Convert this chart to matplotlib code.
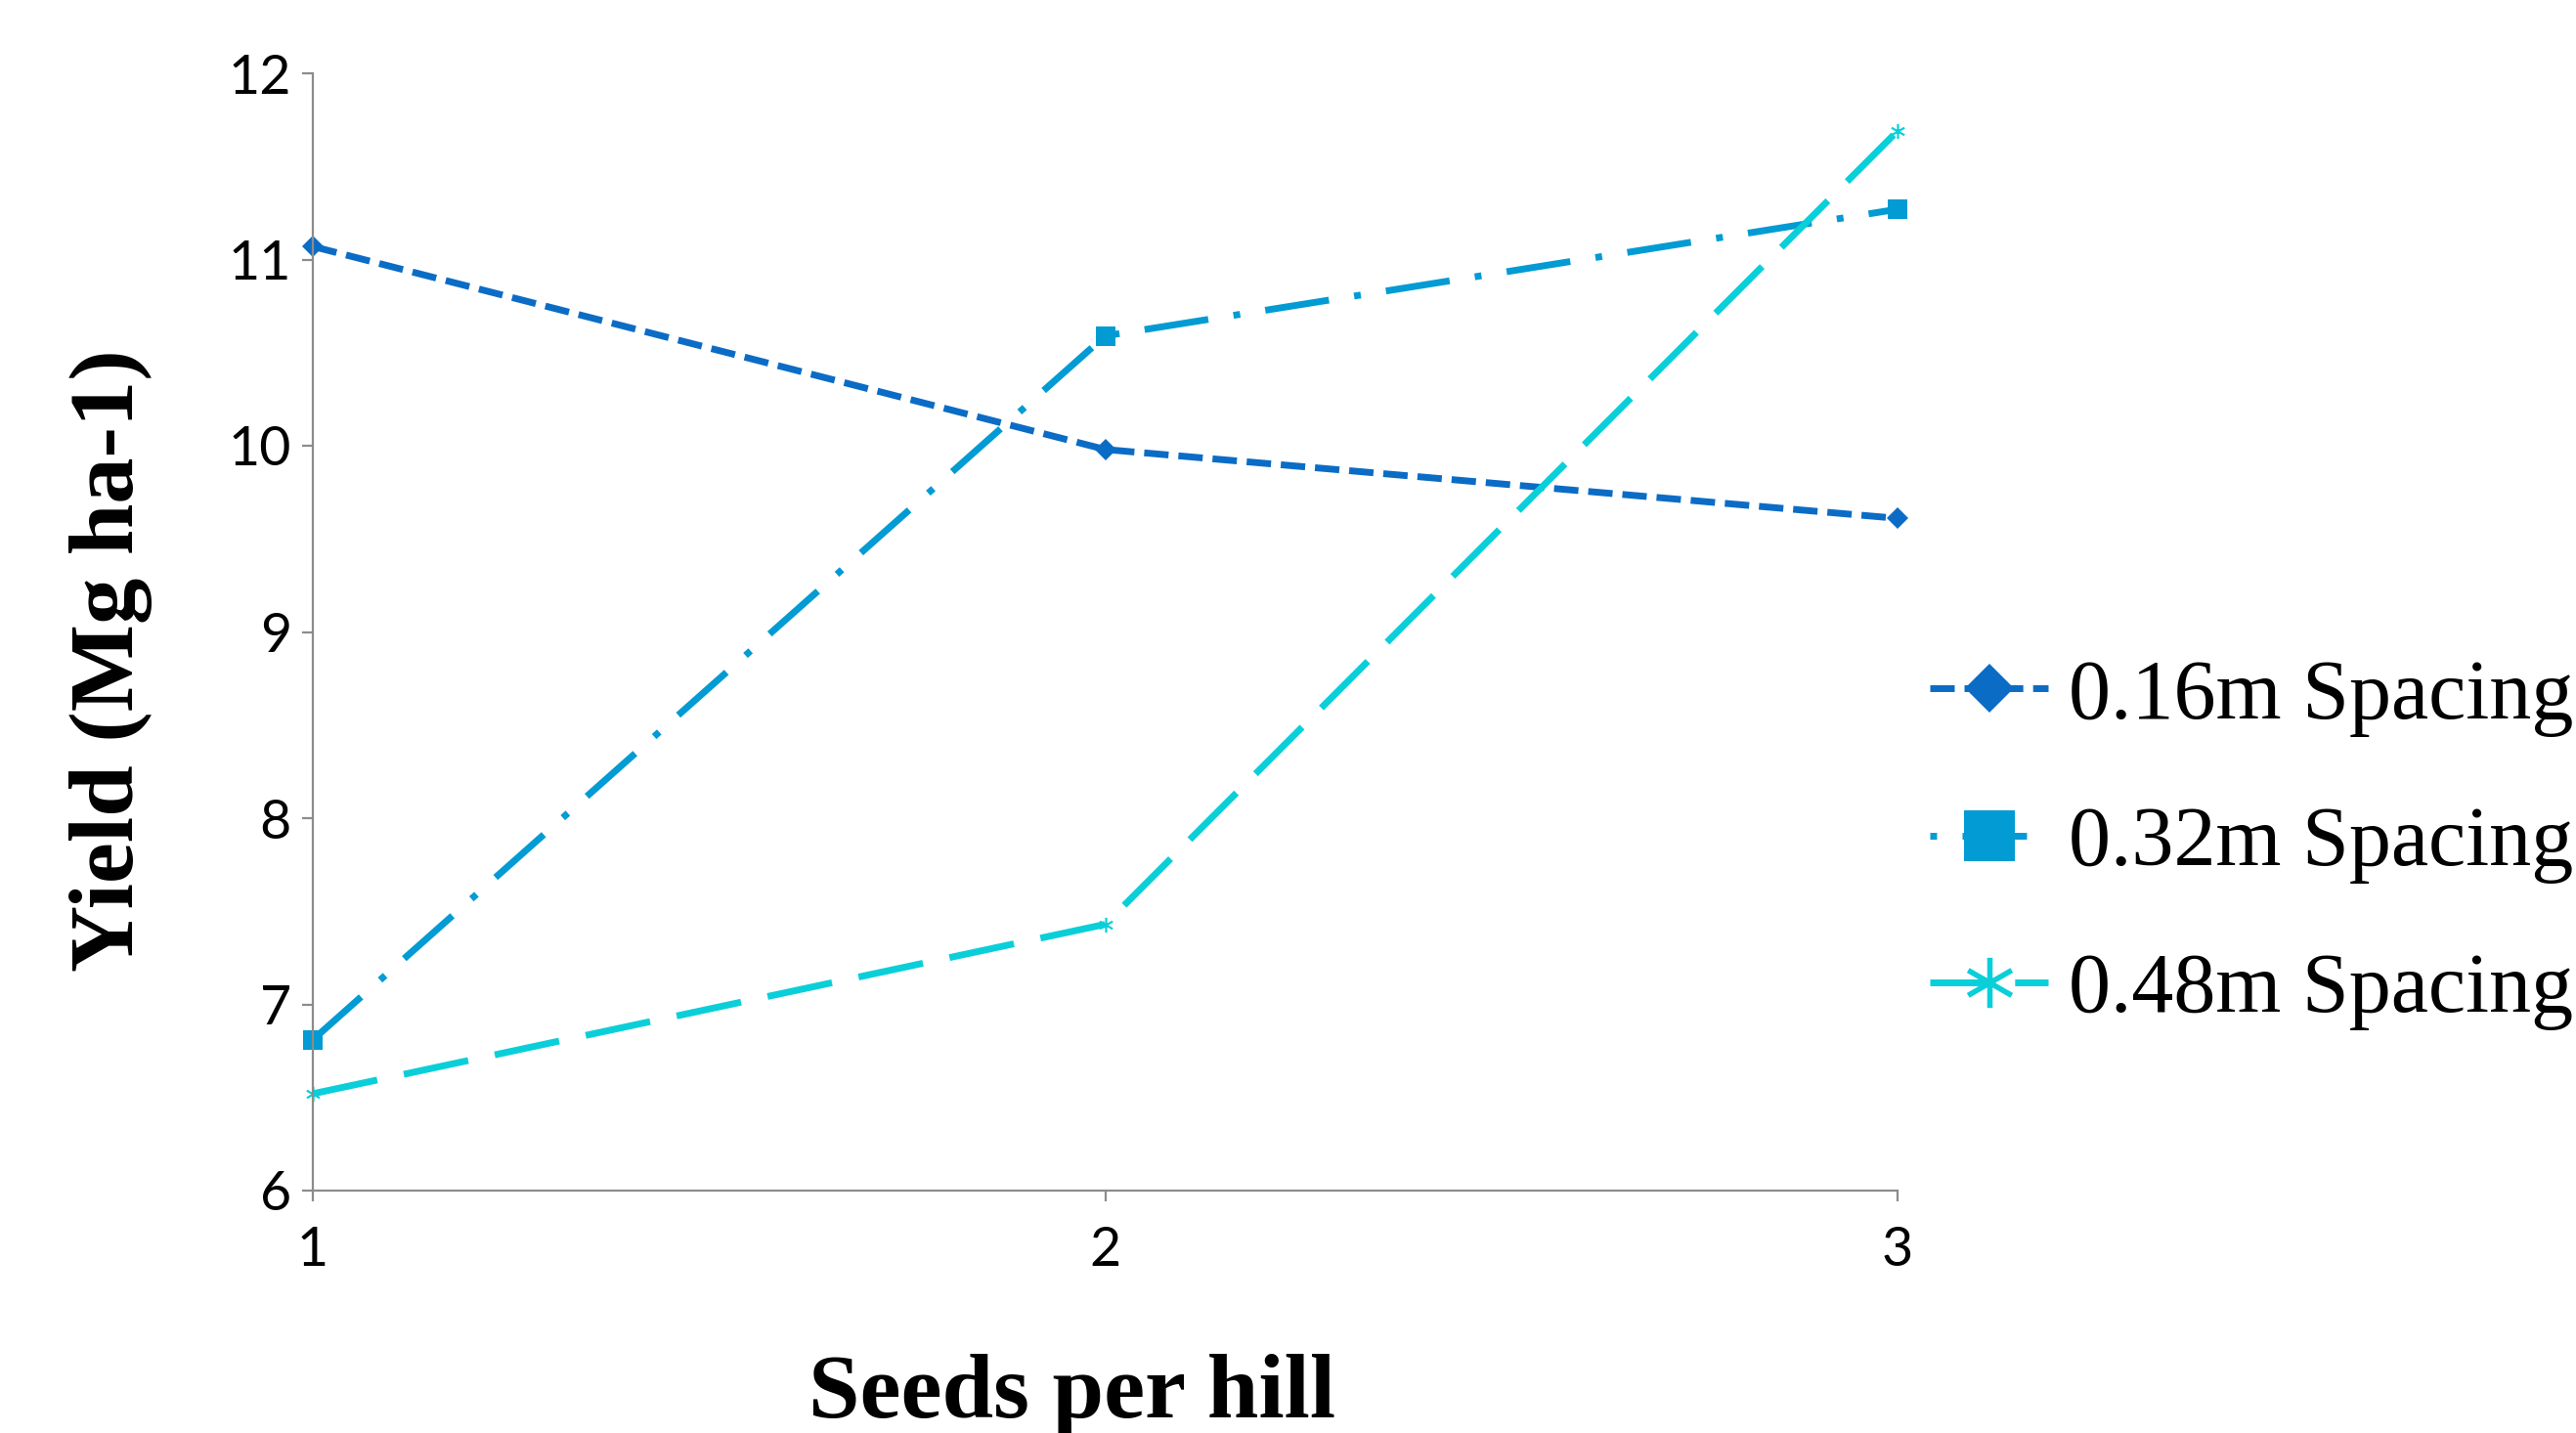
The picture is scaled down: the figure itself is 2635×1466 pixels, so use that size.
import matplotlib
matplotlib.use("Agg")
import matplotlib.pyplot as plt
from matplotlib.lines import Line2D
from matplotlib.path import Path

# data
seeds = [1, 2, 3]
spacing_016 = [11.07, 9.98, 9.61]
spacing_032 = [6.81, 10.59, 11.27]
spacing_048 = [6.52, 7.43, 11.69]
labels = ["0.16m Spacing", "0.32m Spacing", "0.48m Spacing"]
y_ticks = [6, 7, 8, 9, 10, 11, 12]

c1 = "#0B6CC5"
c2 = "#029BD3"
c3 = "#0ACFD9"

# six-armed asterisk like the Excel star marker
star = Path([(0, -1), (0, 1), (-0.866, -0.5), (0.866, 0.5), (-0.866, 0.5), (0.866, -0.5)],
            [Path.MOVETO, Path.LINETO, Path.MOVETO, Path.LINETO, Path.MOVETO, Path.LINETO])

lw = 2.5
ls1 = (0, (3.6, 1.45))
ls2 = (0, (9.5, 3.75, 1.0, 3.75))
ls3 = (0, (9.7, 4.0))

fig = plt.figure(figsize=(13.175, 7.33), dpi=200)
ax = fig.add_axes([320 / 2635, 1 - 1218 / 1466, (1941 - 320) / 2635, (1218 - 75) / 1466])

ax.plot(seeds, spacing_016, color=c1, lw=lw, ls=ls1, dash_capstyle="butt",
        marker="D", ms=5.4, mew=0, clip_on=False)
ax.plot(seeds, spacing_032, color=c2, lw=lw, ls=ls2, dash_capstyle="butt",
        marker="s", ms=7.2, mew=0, clip_on=False)
ax.plot(seeds, spacing_048, color=c3, lw=lw, ls=ls3, dash_capstyle="butt",
        marker=star, ms=5.5, mew=0.8, mec=c3, clip_on=False)

ax.set_xlim(1, 3)
ax.set_ylim(6, 12)
ax.set_xticks(seeds)
ax.set_yticks(y_ticks)

for s in ["top", "right"]:
    ax.spines[s].set_visible(False)
for s in ["left", "bottom"]:
    ax.spines[s].set_color("#8C8C8C")
    ax.spines[s].set_linewidth(0.8)

ax.tick_params(axis="both", direction="out", length=4, width=0.8, color="#8C8C8C",
               labelsize=20, labelcolor="black")
ax.tick_params(axis="y", pad=4)
ax.tick_params(axis="x", pad=9)
for t in ax.get_xticklabels() + ax.get_yticklabels():
    t.set_fontfamily("Lato")

fig.text(1097 / 2635, 1 - 1450 / 1466, "Seeds per hill", ha="center", va="baseline",
         fontsize=34, fontweight="bold", family="Liberation Serif")
fig.text(114 / 2635, 1 - 676 / 1466, "Yield (Mg ha-1)", ha="center", va="center",
         rotation=90, fontsize=34, fontweight="bold", family="Liberation Serif")

# legend proxies with bigger markers, as in the original
handles = [
    Line2D([], [], color=c1, lw=lw, ls=ls1, dash_capstyle="butt", marker="D", ms=12.7, mew=0),
    Line2D([], [], color=c2, lw=lw, ls=(13.25, ls2[1]), dash_capstyle="butt",
           marker="s", ms=18.4, mew=0),
    Line2D([], [], color=c3, lw=lw, ls=(0, (8.0, 4.5)), dash_capstyle="butt",
           marker=star, ms=18.5, mew=2.0, mec=c3),
]
fig.legend(handles, labels, loc="center left",
           bbox_to_anchor=(1974 / 2635, 1 - 864 / 1466), bbox_transform=fig.transFigure,
           frameon=False, borderpad=0, borderaxespad=0, handlelength=1.41,
           handletextpad=0.24, labelspacing=0.82,
           prop={"family": "Liberation Serif", "size": 31})

fig.savefig("out.png", dpi=200)
